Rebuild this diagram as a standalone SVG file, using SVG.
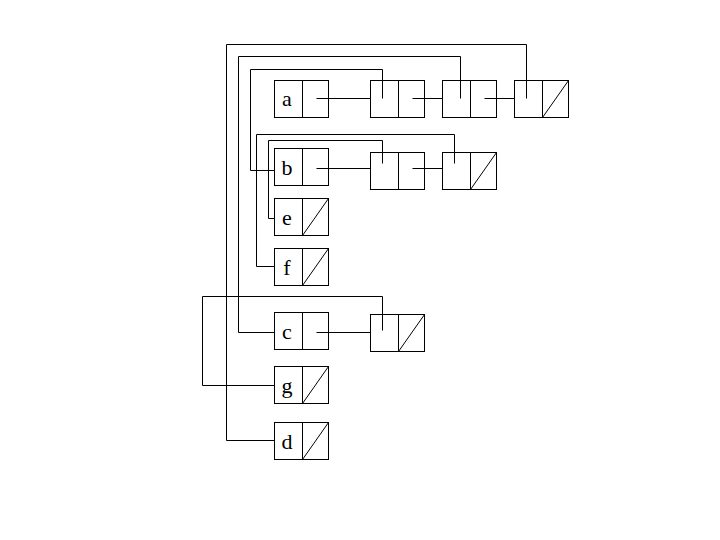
<svg xmlns="http://www.w3.org/2000/svg" width="720" height="540" viewBox="0 0 720 540">
<style>
rect,line,path{fill:none;stroke:#000;stroke-width:1}
text{font-family:"Liberation Serif","Times New Roman",serif;font-size:22px;fill:#000;text-anchor:middle}
</style>
<rect x="0" y="0" width="720" height="540" style="fill:#fff;stroke:none"/>
<defs>
<g id="cell"><rect x="0" y="0" width="54" height="37"/><line x1="28" y1="0" x2="28" y2="37"/></g>
<g id="nil"><rect x="0" y="0" width="54" height="37"/><line x1="28" y1="0" x2="28" y2="37"/><line x1="28" y1="37" x2="54" y2="0"/></g>
</defs>
<g id="node-a"><use href="#cell" x="274.5" y="80.5"/><text x="287" y="106">a</text></g>
<g id="a-cell1"><use href="#cell" x="370.5" y="80.5"/></g>
<g id="a-cell2"><use href="#cell" x="442.5" y="80.5"/></g>
<g id="a-cell3"><use href="#nil" x="514.5" y="80.5"/></g>
<g id="node-b"><use href="#cell" x="274.5" y="148.5"/><text x="287" y="174.5">b</text></g>
<g id="b-cell1"><use href="#cell" x="370.5" y="152.5"/></g>
<g id="b-cell2"><use href="#nil" x="442.5" y="152.5"/></g>
<g id="node-e"><use href="#nil" x="274.5" y="198.5"/><text x="287" y="224.5">e</text></g>
<g id="node-f"><use href="#nil" x="274.5" y="248.5"/><text x="287" y="274.5">f</text></g>
<g id="node-c"><use href="#cell" x="274.5" y="312.5"/><text x="287" y="338.5">c</text></g>
<g id="c-cell1"><use href="#nil" x="370.5" y="314.5"/></g>
<g id="node-g"><use href="#nil" x="274.5" y="366.5"/><text x="287" y="392.5">g</text></g>
<g id="node-d"><use href="#nil" x="274.5" y="422.5"/><text x="287" y="448.5">d</text></g>
<g id="connectors">
<path d="M316.5,98.5 H370.5"/>
<path d="M412.5,98.5 H442.5"/>
<path d="M484.5,98.5 H514.5"/>
<path d="M316.5,168.5 H370.5"/>
<path d="M412.5,168.5 H442.5"/>
<path d="M316.5,332.5 H370.5"/>
<path d="M382.5,98.5 V69.5 H250.5 V170.5 H274.5"/>
<path d="M460.5,98.5 V56.5 H238.5 V332.5 H274.5"/>
<path d="M526.5,98.5 V44.5 H226.5 V440.5 H274.5"/>
<path d="M382.5,163.5 V140.5 H268.5 V218.5 H274.5"/>
<path d="M454.5,163.5 V134.5 H256.5 V266.5 H274.5"/>
<path d="M382.5,330.5 V296.5 H202.5 V385.5 H274.5"/>
</g>
</svg>
